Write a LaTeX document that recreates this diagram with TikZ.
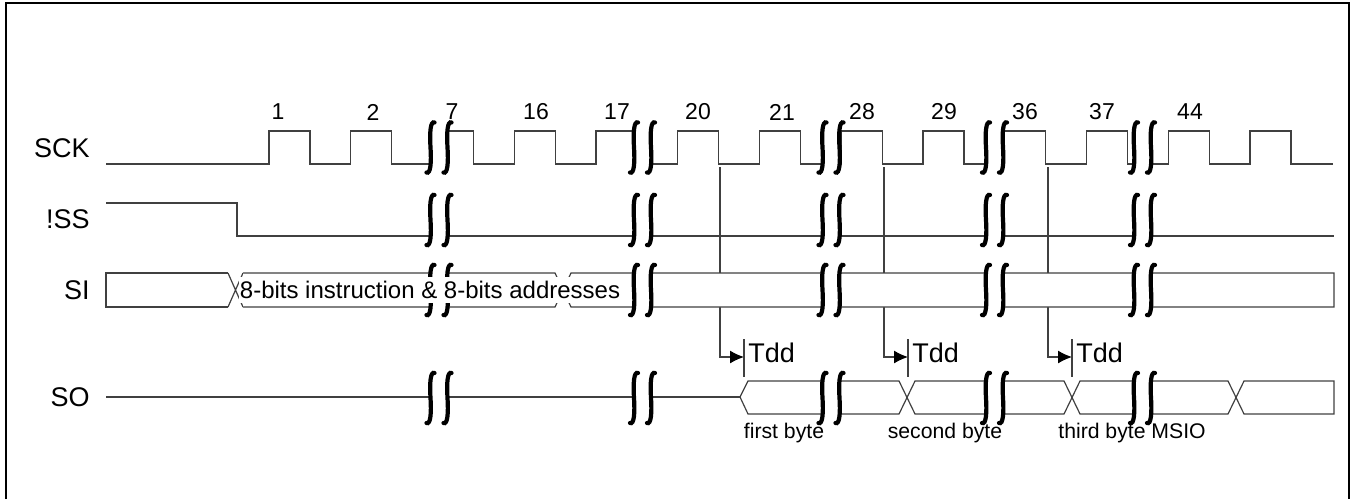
\documentclass[tikz,border=0pt]{standalone}
\usepackage{fontspec}
\setmainfont{Liberation Sans}
\usetikzlibrary{arrows.meta}

% one S stroke of a break mark, #1 = x, #2 = y of its middle
\newcommand{\sstroke}[2]{({#1+4},{#2-25}) .. controls ({#1},{#2-27}) and ({#1-1},{#2-15}) .. ({#1},{#2})
  .. controls ({#1+1},{#2+15}) and ({#1},{#2+27}) .. ({#1-4},{#2+25})}
% break mark: two S strokes with white between them
\newcommand{\brkmark}[2]{%
  \fill[white] ({#1-8.5+4},{#2-25}) .. controls ({#1-8.5},{#2-27}) and ({#1-9.5},{#2-15}) .. ({#1-8.5},{#2})
    .. controls ({#1-7.5},{#2+15}) and ({#1-8.5},{#2+27}) .. ({#1-12.5},{#2+25})
    -- ({#1+4.5},{#2+25}) .. controls ({#1+8.5},{#2+27}) and ({#1+9.5},{#2+15}) .. ({#1+8.5},{#2})
    .. controls ({#1+7.5},{#2-15}) and ({#1+8.5},{#2-27}) .. ({#1+12.5},{#2-25}) -- cycle;
  \draw[brk] \sstroke{#1-8.5}{#2};
  \draw[brk] \sstroke{#1+8.5}{#2};
}

\begin{document}
\begin{tikzpicture}[x=0.5pt,y=-0.5pt,
  sig/.style={draw=black!75,line width=0.6pt},
  brk/.style={line width=2.1pt,line cap=round},
  lbl/.style={anchor=east,inner sep=0pt,font=\fontsize{13.5}{15}\selectfont},
  num/.style={inner sep=0pt,font=\fontsize{11.5}{13}\selectfont},
  small/.style={inner sep=0pt,font=\fontsize{10.6}{12}\selectfont}]
\useasboundingbox (0,0) rectangle (1352,499);

%frame
\draw[line width=1.2pt] (6,499) -- (6,3) -- (1349,3) -- (1349,499);

%signal names
\node[lbl] (sck) at (90,148.5) {SCK};
\node[lbl] (ss) at (90,219) {!SS};
\node[lbl] (si) at (90,290) {SI};
\node[lbl] (so) at (90,397) {SO};

%clock
\draw[sig] (106,164) \foreach \k in {0,...,12}{ -- ({269+81.75*\k},164) -- ++(0,-33) -- ++(41,0) -- ++(0,33) } -- (1333,164);
\foreach \x/\n in {278/1,373/2,452/7,536/16,617/17,698/20,782/21,862/28,944/29,1025/36,1102/37,1190/44}
  \node[num] (c\n) at (\x,112) {\n};

%slave select
\draw[sig] (106,203) -- (237,203) -- (237,236) -- (1334,236);

%edges to SO
\foreach \f [count=\i] in {720,884,1048}{
  \coordinate (e\i) at (\f,167);
  \coordinate (t\i) at ({\f+24},357);
  \draw[sig,-{Latex[length=7pt,width=6.5pt,black]}] (e\i) |- (t\i);
  \draw[sig] ({\f+24},339) -- ({\f+24},377);
  \node[anchor=west,inner sep=0pt,font=\fontsize{13.5}{15}\selectfont] (tdd\i) at ({\f+28},353) {Tdd};
}

%SI bus
\draw[sig] (228,273) -- (106,273) -- (106,307) -- (228,307);
\draw[sig] (228,273) -- (243,307) (228,307) -- (243,273);
\draw[sig,fill=white] (243,273) -- (555,273) -- (571,307) -- (1334,307) -- (1334,273) -- (571,273) -- (555,307) -- (243,307);

%SO bus
\draw[sig] (106,397) -- (740,397);
\draw[sig] (740,397) -- (748,381) -- (899,381) -- (915,414) -- (1064,414) -- (1080,381) -- (1228,381) -- (1244,414) -- (1334,414)
  -- (1334,381) -- (1244,381) -- (1228,414) -- (1080,414) -- (1064,381) -- (915,381) -- (899,414) -- (748,414) -- cycle;

%breaks
\foreach \b in {439,642.5,831,994.5,1142.5}{
  \foreach \y in {147.5,220,290,398}{\brkmark{\b}{\y}}
}

\node[fill=white,inner xsep=0.5pt,inner ysep=0pt,minimum height=13pt,font=\fontsize{12}{14}\selectfont] (cmd) at (430,290) {8-bits instruction \& 8-bits addresses};

\node[small] (b1) at (784,433) {first byte};
\node[small] (b2) at (945,433) {second byte};
\node[small] (b3) at (1132,433) {third byte MSIO};
\end{tikzpicture}
\end{document}
